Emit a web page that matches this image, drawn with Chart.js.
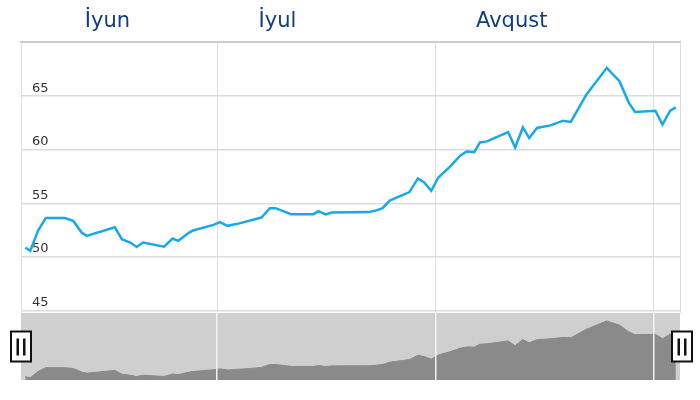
<!DOCTYPE html>
<html><head><meta charset="utf-8">
<script src="https://cdn.jsdelivr.net/npm/chart.js@4"></script>
<style>
html,body{margin:0;padding:0;background:#fff;}
#wrap{position:relative;width:700px;height:400px;overflow:hidden;}
#main{position:absolute;left:0;top:0;width:700px;height:313px;}
#nav{position:absolute;left:0;top:312px;width:700px;height:88px;}
</style></head><body>
<div id="wrap">
<canvas id="main" width="700" height="313"></canvas>
<canvas id="nav" width="700" height="88"></canvas>
</div>
<script>
// Days counted from 1 June (day 0); July 1 = 30, Aug 1 = 61, Sep 1 = 92
const days = [2.8, 3.5, 4.6, 5.7, 8.4, 9.6, 10.8, 11.5, 15.5, 16.5, 17.7, 18.6, 19.5, 22.5, 23.7, 24.5, 25.9, 26.6, 29.5, 30.4, 31.5, 33.3, 36.3, 37.5, 38.3, 39.3, 40.5, 43.7, 44.4, 45.4, 46.3, 51.5, 52.4, 53.5, 54.5, 57.3, 58.5, 59.4, 60.4, 61.4, 63.1, 64.5, 65.4, 66.5, 67.3, 68.3, 71.3, 72.3, 73.4, 74.3, 75.4, 77.3, 79.1, 80.2, 82.4, 85.3, 87.1, 88.4, 89.3, 92.2, 93.2, 94.3, 95.1];
const prices = [50.87, 50.56, 52.43, 53.62, 53.62, 53.36, 52.27, 51.96, 52.77, 51.65, 51.34, 50.93, 51.34, 50.96, 51.71, 51.50, 52.21, 52.46, 52.99, 53.24, 52.90, 53.15, 53.67, 54.55, 54.55, 54.30, 53.99, 53.99, 54.27, 53.96, 54.14, 54.18, 54.30, 54.55, 55.26, 56.05, 57.32, 56.95, 56.17, 57.41, 58.44, 59.44, 59.84, 59.78, 60.68, 60.78, 61.65, 60.21, 62.08, 61.09, 62.03, 62.27, 62.71, 62.59, 65.14, 67.64, 66.39, 64.42, 63.52, 63.64, 62.34, 63.64, 63.95];
const monthStartDays = [30, 61, 92];
const monthLabelDays = [14.46, 38.58, 71.81];
const monthLabels = ['İyun', 'İyul', 'Avqust'];
const yTickValues = [45, 50, 55, 60, 65];

const xMin = 2.19, xMax = 95.69;
const yMin = 44.86, yMax = 70.05;
const navMin = 49.9, navMax = 70.05;

const points = days.map((d, i) => ({x: d, y: prices[i]}));
const noPad = s => { s.paddingTop = 0; s.paddingBottom = 0; };

new Chart(document.getElementById('main'), {
  type: 'line',
  data: {datasets: [{
    data: points, borderColor: '#17a9ec', borderWidth: 2.5,
    pointRadius: 0, tension: 0, fill: false, borderJoinStyle: 'miter'
  }]},
  options: {
    responsive: false, animation: false,
    layout: {padding: 0, autoPadding: false},
    plugins: {legend: {display: false}, tooltip: {enabled: false}},
    scales: {
      x: {
        type: 'linear', position: 'bottom', min: xMin, max: xMax,
        afterBuildTicks: s => { s.ticks = monthStartDays.map(v => ({value: v})); },
        ticks: {display: false},
        grid: {color: '#dedede', drawTicks: false},
        border: {display: false},
        afterFit: s => { s.height = 1; s.paddingLeft = 0; s.paddingRight = 0; }
      },
      top: {
        type: 'linear', position: 'top', min: xMin, max: xMax,
        afterBuildTicks: s => { s.ticks = monthLabelDays.map(v => ({value: v})); },
        ticks: {
          callback: (v, i) => monthLabels[i], color: '#123f7f',
          font: {family: 'DejaVu Sans', size: 21}, padding: 8,
          maxRotation: 0, autoSkip: false
        },
        grid: {display: false, drawTicks: false},
        border: {display: true, color: '#cccccc', width: 2},
        afterFit: s => { s.height = 42; s.paddingLeft = 0; s.paddingRight = 0; }
      },
      y: {
        position: 'left', min: yMin, max: yMax,
        afterBuildTicks: s => { s.ticks = yTickValues.map(v => ({value: v})); },
        ticks: {mirror: true, padding: 11, labelOffset: -8, color: '#333333',
                font: {family: 'DejaVu Sans', size: 13}},
        grid: {color: '#dcdcdc', drawTicks: false, lineWidth: 1.5},
        border: {display: true, color: '#dedede'},
        afterFit: s => { s.width = 21; noPad(s); }
      },
      yr: {
        position: 'right', min: yMin, max: yMax,
        ticks: {display: false},
        grid: {display: false, drawTicks: false},
        border: {display: true, color: '#dedede'},
        afterFit: s => { s.width = 20; noPad(s); }
      }
    }
  }
});

const navBg = {
  id: 'navBg',
  beforeDatasetsDraw(chart) {
    const {ctx, chartArea: a} = chart;
    ctx.save();
    ctx.fillStyle = '#cfcfcf';
    ctx.fillRect(a.left, a.top, a.right - a.left, a.bottom - a.top);
    ctx.restore();
  }
};
const handles = {
  id: 'handles',
  afterDraw(chart) {
    const {ctx} = chart;
    const xs = chart.scales.x;
    const ys = chart.scales.y;
    const cy = (ys.top + ys.bottom) / 2;
    [xs.getPixelForValue(xs.min), xs.getPixelForValue(xs.max) + 2].forEach(cx => {
      ctx.save();
      ctx.fillStyle = '#ffffff';
      ctx.strokeStyle = '#111111';
      ctx.lineWidth = 2;
      ctx.fillRect(cx - 10, cy - 15, 20, 30);
      ctx.strokeRect(cx - 10, cy - 15, 20, 30);
      ctx.fillStyle = '#111111';
      ctx.fillRect(cx - 4.5, cy - 8, 2.5, 17);
      ctx.fillRect(cx + 2, cy - 8, 2.5, 17);
      ctx.restore();
    });
  }
};

new Chart(document.getElementById('nav'), {
  type: 'line',
  data: {datasets: [{
    data: points, borderColor: '#8a8a8a', borderWidth: 1,
    backgroundColor: '#8a8a8a', fill: 'start', pointRadius: 0, tension: 0
  }]},
  options: {
    responsive: false, animation: false,
    layout: {padding: {left: 21, right: 20, top: 1, bottom: 0}, autoPadding: false},
    plugins: {legend: {display: false}, tooltip: {enabled: false}},
    scales: {
      x: {
        type: 'linear', position: 'bottom', min: xMin, max: xMax,
        afterBuildTicks: s => { s.ticks = monthStartDays.map(v => ({value: v})); },
        ticks: {display: false},
        grid: {color: '#f2f2f2', drawTicks: false, z: 1, lineWidth: 1.5},
        border: {display: false},
        afterFit: s => { s.height = 20; s.paddingLeft = 0; s.paddingRight = 0; }
      },
      y: {min: navMin, max: navMax, display: false}
    }
  },
  plugins: [navBg, handles]
});
</script>
</body></html>
